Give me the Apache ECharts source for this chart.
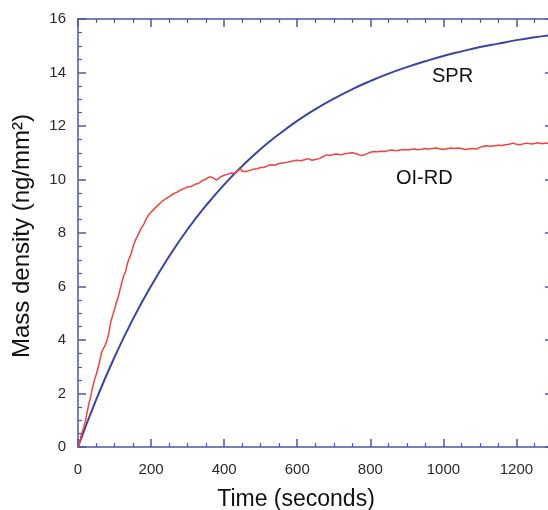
<!DOCTYPE html>
<html>
<head>
<meta charset="utf-8">
<script src="https://cdn.jsdelivr.net/npm/echarts@6/dist/echarts.min.js"></script>
<style>html,body{margin:0;padding:0;background:#fff;}#c{width:548px;height:510px;}</style>
</head>
<body>
<div id="c"></div>
<script>
const sprTime = [0,50,100,150,200,250,300,350,400,450,500,550,600,650,700,750,800,850,900,950,1000,1050,1100,1150,1200,1250,1300];
const sprValues = [0,1.78,3.36,4.77,6.02,7.14,8.14,9.02,9.81,10.51,11.14,11.69,12.19,12.63,13.02,13.37,13.68,13.96,14.20,14.42,14.62,14.79,14.95,15.08,15.21,15.32,15.41];

const oirdTime = [0,5,10,15,20,25,30,35,40,45,50,55,60,65,70,75,80,85,90,95,100,105,110,115,120,125,130,135,140,145,150,155,160,165,170,175,180,185,190,195,200,205,210,215,220,225,230,235,240,245,250,255,260,265,270,275,280,285,290,295,300,305,310,315,320,325,330,335,340,345,350,355,360,365,370,375,380,385,390,395,400,405,410,415,420,425,430,435,440,445,450,455,460,470,480,490,500,510,520,530,540,550,560,570,580,590,600,610,620,630,640,650,660,670,680,690,700,710,720,730,740,750,760,770,780,790,800,810,820,830,840,850,860,870,880,890,900,910,920,930,940,950,960,970,980,990,1000,1010,1020,1030,1040,1050,1060,1070,1080,1090,1100,1110,1120,1130,1140,1150,1160,1170,1180,1190,1200,1210,1220,1230,1240,1250,1260,1270,1280,1290,1300];
const oirdValues = [0.00,0.22,0.50,0.70,0.95,1.30,1.62,1.90,2.25,2.50,2.72,2.95,3.25,3.55,3.70,3.82,4.02,4.30,4.70,4.92,5.15,5.40,5.60,5.88,6.15,6.40,6.55,6.85,7.05,7.20,7.45,7.65,7.82,7.95,8.10,8.22,8.32,8.48,8.60,8.70,8.78,8.85,8.92,8.98,9.05,9.10,9.18,9.22,9.28,9.30,9.36,9.40,9.46,9.50,9.52,9.57,9.60,9.62,9.66,9.70,9.72,9.75,9.74,9.80,9.82,9.86,9.85,9.92,9.96,9.98,10.02,10.05,10.10,10.08,10.06,10.00,9.98,10.04,10.10,10.14,10.16,10.18,10.20,10.22,10.24,10.26,10.22,10.30,10.34,10.40,10.30,10.26,10.30,10.34,10.38,10.40,10.45,10.46,10.52,10.55,10.54,10.60,10.62,10.64,10.66,10.70,10.72,10.70,10.74,10.78,10.72,10.75,10.78,10.85,10.92,10.90,10.94,10.95,10.92,10.96,10.98,11.00,10.97,10.92,10.90,10.96,11.02,11.05,11.04,11.06,11.05,11.08,11.10,11.07,11.10,11.12,11.10,11.12,11.14,11.11,11.13,11.16,11.14,11.16,11.18,11.15,11.12,11.15,11.18,11.16,11.18,11.15,11.12,11.14,11.16,11.14,11.20,11.24,11.26,11.24,11.26,11.28,11.27,11.30,11.32,11.36,11.32,11.30,11.34,11.36,11.33,11.35,11.37,11.34,11.36,11.35,11.37];

const xTicks = [0,200,400,600,800,1000,1200];
const yTicks = [0,2,4,6,8,10,12,14,16];

const axisColor = '#4b57a6';
const labelFont = {fontFamily:'Liberation Sans, Arial, sans-serif', fontSize:15, color:'#2a2a2a'};

const chart = echarts.init(document.getElementById('c'), null, {renderer:'canvas'});
const baseX = {
  type:'value', min:0, max:1300, interval:200,
  axisLine:{show:true, onZero:false, lineStyle:{color:axisColor, width:1.5}},
  axisTick:{show:true, inside:true, length:8, lineStyle:{color:axisColor, width:1.5}},
  minorTick:{show:true, splitNumber:4, length:4, lineStyle:{color:axisColor, width:1.2}},
  splitLine:{show:false}
};
const baseY = {
  type:'value', min:0, max:16, interval:2,
  axisLine:{show:true, onZero:false, lineStyle:{color:axisColor, width:1.5}},
  axisTick:{show:true, inside:true, length:8, lineStyle:{color:axisColor, width:1.5}},
  minorTick:{show:true, splitNumber:4, length:4, lineStyle:{color:axisColor, width:1.2}},
  splitLine:{show:false}
};
chart.setOption({
  animation:false,
  grid:{left:78, top:19, right:-5, bottom:63, outerBoundsMode:'none', containLabel:false},
  xAxis:[
    Object.assign({}, baseX, {position:'bottom',
      axisLabel:Object.assign({margin:15, formatter:v=>xTicks.includes(v)?String(v):''}, labelFont)}),
    Object.assign({}, baseX, {position:'top', axisLabel:{show:false}})
  ],
  yAxis:[
    Object.assign({}, baseY, {position:'left',
      axisLabel:Object.assign({margin:12, formatter:v=>yTicks.includes(v)?String(v):''}, labelFont)}),
    Object.assign({}, baseY, {position:'right', axisLabel:{show:false}})
  ],
  series:[
    {name:'SPR', type:'line', smooth:true, showSymbol:false, xAxisIndex:0, yAxisIndex:0,
      lineStyle:{color:'#3b44a3', width:2}, data:sprTime.map((t,i)=>[t,sprValues[i]])},
    {name:'OI-RD', type:'line', showSymbol:false, xAxisIndex:0, yAxisIndex:0,
      lineStyle:{color:'#f0433f', width:1.5}, data:oirdTime.map((t,i)=>[t,oirdValues[i]])}
  ],
  graphic:[
    {type:'text', x:296, y:500, style:{text:'Time (seconds)', font:'23px "Liberation Sans", Arial, sans-serif', fill:'#111', textAlign:'center', textVerticalAlign:'middle'}},
    {type:'text', x:22, y:236, rotation:Math.PI/2, style:{text:'Mass density (ng/mm²)', font:'24px "Liberation Sans", Arial, sans-serif', fill:'#111', textAlign:'center', textVerticalAlign:'middle'}},
    {type:'text', left:432, top:66, style:{text:'SPR', font:'20px "Liberation Sans", Arial, sans-serif', fill:'#111'}},
    {type:'text', left:396, top:168, style:{text:'OI-RD', font:'20px "Liberation Sans", Arial, sans-serif', fill:'#111'}}
  ]
});
</script>
</body>
</html>
